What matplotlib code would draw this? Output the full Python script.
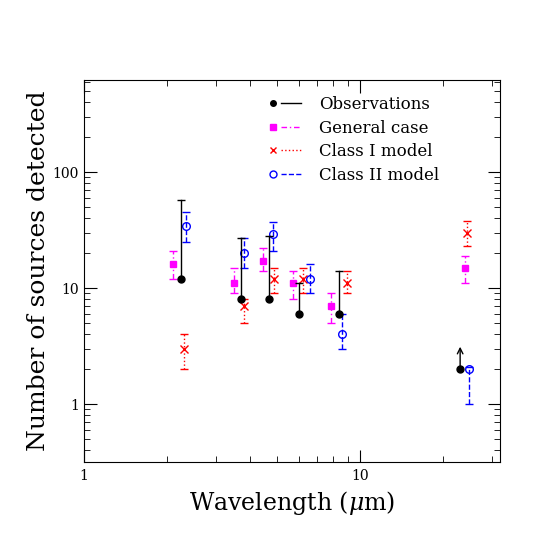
import numpy as np
import matplotlib
matplotlib.use("Agg")
import matplotlib.pyplot as plt
from matplotlib.lines import Line2D
from matplotlib.legend_handler import HandlerBase

plt.rcParams['font.family'] = 'DejaVu Serif'
plt.rcParams['mathtext.fontset'] = 'dejavuserif'

# Observations: value and upper end of bar (last point is a lower limit)
obs_x = [2.24, 3.71, 4.69, 6.01, 8.35, 23.0]
obs_y = [12, 8, 8, 6, 6, 2]
obs_top = [57, 27, 28, 11, 14, None]

# General case
gen_x = [2.10, 3.50, 4.45, 5.70, 7.84, 24.0]
gen_y = [16, 11, 17, 11, 7, 15]
gen_lo = [12, 9, 14, 8, 5, 11]
gen_hi = [21, 15, 22, 14, 9, 19]

# Class I model
c1_x = [2.30, 3.79, 4.89, 6.19, 8.98, 24.3]
c1_y = [3, 7, 12, 12, 11, 30]
c1_lo = [2, 5, 9, 9, 9, 23]
c1_hi = [4, 8, 15, 15, 14, 38]

# Class II model
c2_x = [2.35, 3.80, 4.84, 6.60, 8.56, 24.8]
c2_y = [34, 20, 29, 12, 4, 2]
c2_lo = [25, 15, 21, 9, 3, 1]
c2_hi = [45, 27, 37, 16, 6, 2.1]

DASHDOT = (0, (4, 2, 1, 2))

fig = plt.figure(figsize=(5.45, 5.45), dpi=100)
ax = fig.add_axes([0.154, 0.152, 0.763, 0.701])


def model_bars(x, y, lo, hi, color, marker, ls, ms, mfc):
    y = np.array(y, dtype=float)
    err = [y - np.array(lo), np.array(hi) - y]
    _, caps, bars = ax.errorbar(x, y, yerr=err, fmt='none', ecolor=color,
                                elinewidth=1, capsize=3, capthick=1)
    for b in bars:
        b.set_linestyle(ls)
    ax.plot(x, y, linestyle='none', marker=marker, color=color, ms=ms,
            mfc=mfc, mew=1)


model_bars(gen_x, gen_y, gen_lo, gen_hi, 'magenta', 's', DASHDOT, 4, 'magenta')
model_bars(c1_x, c1_y, c1_lo, c1_hi, 'red', 'x', ':', 6, 'red')
model_bars(c2_x, c2_y, c2_lo, c2_hi, 'blue', 'o', '--', 5.5, 'none')

# observations: bar from value up to top, cap on top only
for x, y, t in zip(obs_x, obs_y, obs_top):
    if t is None:
        ax.annotate('', xy=(x, y * 1.65), xytext=(x, y),
                    arrowprops=dict(arrowstyle='->', color='black', lw=1))
    else:
        ax.plot([x, x], [y, t], color='black', lw=1)
        ax.plot([x], [t], marker='_', color='black', ms=6, mew=1)
ax.plot(obs_x, obs_y, linestyle='none', marker='o', color='black', ms=5)

ax.set_xscale('log')
ax.set_yscale('log')
ax.set_xlim(1, 32)
ax.set_ylim(0.316, 620)
ax.set_xticks([1, 10])
ax.set_xticklabels(['1', '10'])
ax.set_yticks([1, 10, 100])
ax.set_yticklabels(['1', '10', '100'])
ax.tick_params(which='both', direction='in', top=True, right=True, labelsize=10)
ax.tick_params(which='major', length=9)
ax.tick_params(which='minor', length=4.5)
ax.tick_params(axis='x', pad=5)

ax.set_xlabel(r'Wavelength ($\mu$m)', fontsize=17)
ax.set_ylabel('Number of sources detected', fontsize=18, labelpad=2)


# legend: marker at the left end, line to its right
class MarkerLeft(HandlerBase):
    def create_artists(self, legend, orig_handle, xdescent, ydescent,
                       width, height, fontsize, trans):
        x0 = -xdescent
        y0 = -ydescent + height / 2
        line = Line2D([x0 + 0.3 * width, x0 + width], [y0, y0],
                      color=orig_handle.get_color(),
                      linestyle=orig_handle.get_linestyle(),
                      linewidth=orig_handle.get_linewidth(), transform=trans)
        if orig_handle.get_linestyle() == '-.':
            line.set_dashes((4, 2, 1, 2))
        mark = Line2D([x0], [y0], linestyle='none',
                      marker=orig_handle.get_marker(),
                      color=orig_handle.get_color(),
                      markersize=orig_handle.get_markersize(),
                      markerfacecolor=orig_handle.get_markerfacecolor(),
                      transform=trans)
        return [line, mark]


handles = [
    Line2D([], [], color='black', marker='o', ms=4, ls='-', lw=1),
    Line2D([], [], color='magenta', marker='s', ms=4, ls='-.', lw=1),
    Line2D([], [], color='red', marker='x', ms=5, ls=':', lw=1),
    Line2D([], [], color='blue', marker='o', ms=5, mfc='none', ls='--', lw=1),
]
labels = ['Observations', 'General case', 'Class I model', 'Class II model']
ax.legend(handles, labels, loc='upper left', bbox_to_anchor=(0.418, 0.998),
          frameon=False, fontsize=12, handlelength=1.7,
          labelspacing=0.4, handletextpad=1.1,
          handler_map={Line2D: MarkerLeft()})

fig.savefig('out.png', dpi=100)
